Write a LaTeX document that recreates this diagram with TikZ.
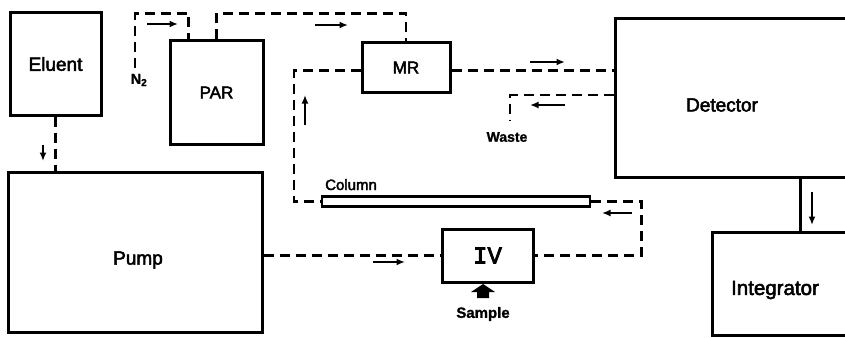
\documentclass[tikz,border=0pt]{standalone}
\usepackage{fontspec}
\setmainfont{Liberation Sans}
\newfontfamily\lblfont{Liberation Sans}[FakeBold=2.6]
\newfontfamily\smfont{Liberation Sans}[UprightFont={* Bold},FakeBold=1.2]
\newfontfamily\ivfont{Liberation Mono}[FakeBold=3]
\usetikzlibrary{arrows.meta,calc}
\begin{document}
\begin{tikzpicture}[x=1pt,y=-1pt,
  box/.style={draw,line width=3pt,inner sep=0pt},
  pipe/.style={line width=2.3pt,dash pattern=on 10pt off 6pt},
  flowarrow/.style={line width=2pt,-{Latex[length=8.5pt,width=7pt]}},
  lbl/.style={font=\lblfont\fontsize{19}{22}\selectfont,inner sep=0pt},
  lbls/.style={font=\lblfont\fontsize{17}{20}\selectfont,inner sep=0pt},
  small/.style={font=\smfont\fontsize{14}{16}\selectfont,inner sep=0pt}]
\useasboundingbox (0,0) rectangle (845,337);
\clip (0,0) rectangle (845,337);
% boxes
\node[box,minimum width=91pt,minimum height=102pt,lbl] (elu) at (55.5,64) {Eluent};
\node[box,minimum width=93pt,minimum height=103pt,lbls] (par) at (216.5,92.5) {PAR};
\node[box,minimum width=88pt,minimum height=49pt,lbls] (mr) at (406,67.5) {MR};
\node[box,minimum width=270pt,minimum height=158pt] (det) at (750,98) {};
\node[lbl] (detl) at (722,105) {Detector};
\node[box,minimum width=180pt,minimum height=103pt] (int) at (802,283.5) {};
\node[lbl,font=\lblfont\fontsize{20.5}{24}\selectfont] (intl) at (775,290) {Integrator};
\node[box,minimum width=254pt,minimum height=160pt] (pump) at (135,252) {};
\node[lbl] (pumpl) at (138,260) {Pump};
\node[box,minimum width=91pt,minimum height=53pt,font=\ivfont\fontsize{24}{26}\selectfont] (iv) at (487.5,255.5) {IV};
\node[draw,line width=2.2pt,minimum width=268pt,minimum height=10pt,inner sep=0pt] (col) at (456,201.5) {};
\node[font=\lblfont\fontsize{15}{17}\selectfont,inner sep=0pt,anchor=base west] (coll) at (325,190) {Column};
% labels
\node[small] (wastel) at (507,137) {Waste};
\node[small,font=\smfont\fontsize{14.5}{16}\selectfont] (n2l) at (139,80) {N\textsubscript{2}};
\node[small,font=\smfont\fontsize{15}{17}\selectfont] (sampl) at (483,314) {Sample};
% connectors
\draw[pipe] (elu.south) -- (elu.south |- pump.north);
\coordinate (n2) at (135,68);
\draw[pipe] (n2) |- ($(par.north west)+(20,-26)$) -- ($(par.north west)+(20,0)$);
\draw[pipe] ($(par.north west)+(48,0)$) |- ($(mr.north)+(0,-28)$) -- (mr.north);
\coordinate (mrW) at ($(mr.west)+(0,3)$);
\coordinate (mrE) at ($(mr.east)+(0,3)$);
\draw[pipe] (mrW) -| ($(col.west)+(-27,0)$) -- (col.west);
\draw[pipe] (mrE) -- (mrE -| det.west);
\coordinate (waste) at (510,120);
\coordinate (wy) at (600,95);
\draw[pipe] (det.west |- wy) -| (waste);
\coordinate (cturn) at ($(iv.east)+(107,0)$);
\draw[pipe] (col.east) -| (cturn) -- (iv.east);
\draw[pipe] (pump.east |- iv.west) -- (iv.west);
\draw[line width=2.3pt] ($(det.south west)+(187,0)$) -- ($(int.north west)+(90,0)$);
% flow arrows
\draw[flowarrow] (43,145) -- (43,161);
\draw[flowarrow] (147,24) -- (178,24);
\draw[flowarrow] (315,25) -- (348,25);
\draw[flowarrow] (305,125) -- (305,95);
\draw[flowarrow] (530,62) -- (565,62);
\draw[flowarrow] (565,105) -- (530,105);
\draw[flowarrow] (632,213) -- (602,213);
\draw[flowarrow] (373,262) -- (405,262);
\draw[flowarrow] (812,192) -- (812,225);
% sample block arrow
\fill (477,298) -- (477,292) -- (471,292) -- (483,284) -- (495,292) -- (489,292) -- (489,298) -- cycle;
\end{tikzpicture}
\end{document}
